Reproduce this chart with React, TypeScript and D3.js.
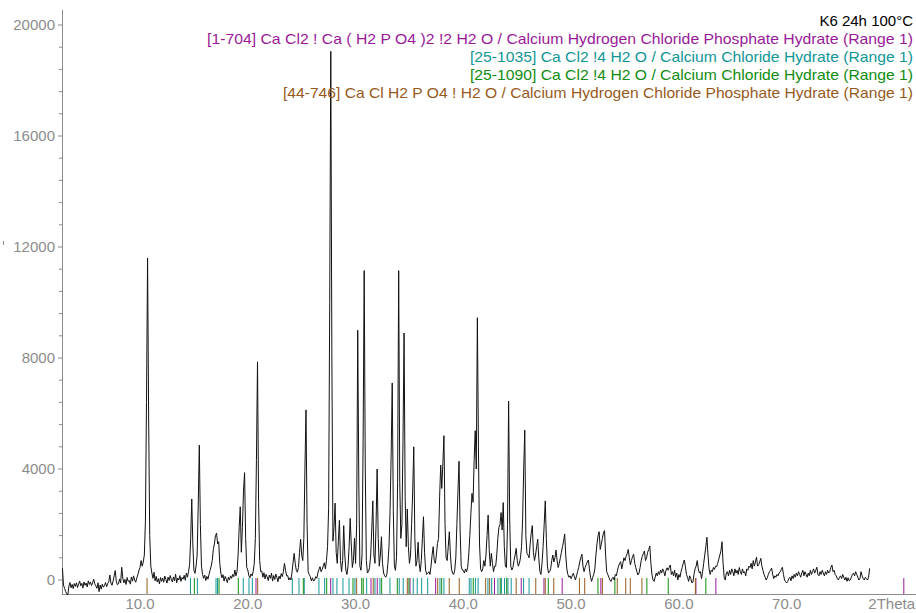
import React from "react";
import * as d3 from "d3";

const WIDTH = 916;
const HEIGHT = 613;

// Scan grid: first angle and step (°2θ), counts listed one row per degree.
const SCAN_START = 2.8;
const SCAN_STEP = 0.1;
const counts: number[] = [
  420, -180,
  -300, -420, -500, -540, -220, -90, -280, -160, -310, -130,
  -230, -100, -270, -150, -40, -210, -120, -290, -70, -190,
  -110, -250, -30, -160, -70, -200, -100, 30, -140, -210,
  -300, -100, -420, -180, -330, -150, -260, -200, -90, -240,
  -130, -60, 180, -110, -190, -40, 150, 340, -60, -170,
  -140, 40, -110, 460, 70, -100, 20, -160, 90, -50,
  -20, -150, 110, -40, 150, 0, -80, 70, 190, 350,
  450, 700, 500, 650, 900, 2100, 6400, 11600, 5800, 1600, // 10°
  500, 250, 60, 280, -30, 130, -70, 50, -140, 90,
  -50, 70, -80, 140, 20, -110, 100, -20, 160, 30,
  -70, 110, -30, 210, -100, 70, 0, 160, -50, 90,
  30, 170, -10, 250, 100, 300, 550, 1500, 2920, 1300,
  350, 240, 500, 900, 2700, 4860, 2000, 500, 200, 60,
  180, -20, 130, 30, 200, 350, 500, 700, 1100, 1300,
  1600, 1690, 1300, 1380, 600, 250, 80, 190, -40, 130,
  30, -90, 100, 0, 150, 60, 200, 120, 360, 150,
  300, 900, 1900, 2640, 1000, 1900, 3200, 3870, 1500, 450,
  360, 150, 80, 220, 150, 300, 600, 1500, 4300, 7860, // 20°
  2800, 700, 300, 320, 100, 260, 40, 200, 110, -20,
  180, 60, 250, -40, 160, 20, 210, 90, -60, 140,
  40, 230, 120, 300, 600, 350, 150, 160, 0, 80,
  0, 280, 620, 960, 600, 350, 280, 450, 1000, 1470,
  900, 700, 1500, 4000, 6130, 2000, 300, 200, 120, -30,
  80, -40, 0, 120, 60, 250, 380, 480, 300, 380,
  500, 620, 400, 700, 1200, 2600, 10000, 19050, 8000, 1400,
  1900, 2770, 1000, 600, 1400, 2150, 700, 300, 700, 1960,
  900, 350, 200, 500, 1200, 2220, 1300, 450, 700, 1500,
  600, 2000, 9000, 3500, 500, 350, 900, 5000, 11150, 4000, // 30°
  700, 250, 300, 450, 900, 1800, 2850, 900, 600, 2000,
  4000, 1500, 500, 900, 1560, 600, 250, 150, 100, 200,
  600, 1200, 2500, 4500, 7100, 2500, 500, 350, 800, 3500,
  11150, 3500, 1500, 2000, 5000, 8900, 3000, 1200, 2560, 1200,
  600, 900, 2000, 3200, 4800, 1500, 500, 700, 1360, 600,
  300, 700, 1500, 2280, 1000, 350, 200, 240, 300, 200,
  500, 900, 1200, 700, 600, 900, 1320, 1500, 3000, 4140,
  3300, 4200, 5200, 2000, 800, 700, 1200, 1740, 900, 400,
  250, 200, 350, 800, 2000, 3200, 4280, 1800, 500, 360,
  350, 250, 400, 300, 450, 900, 1600, 2400, 3120, 2800, // 40°
  4300, 5380, 4000, 9450, 4800, 1300, 400, 300, 400, 700,
  500, 900, 1600, 2340, 1100, 500, 960, 600, 300, 500,
  500, 900, 1500, 1900, 2000, 2430, 1800, 2790, 1200, 480,
  450, 2000, 6450, 2200, 500, 360, 450, 700, 900, 1140,
  700, 500, 600, 800, 1200, 2200, 4000, 5400, 1600, 960,
  900, 800, 1300, 1700, 1960, 1000, 700, 900, 1200, 1470,
  800, 300, 200, 600, 1200, 2000, 2850, 1500, 500, 250,
  300, 400, 700, 900, 650, 800, 1080, 700, 450, 600,
  800, 1000, 1200, 1400, 1660, 900, 400, 200, 100, 150,
  50, 150, 240, 120, 0, 150, 300, 450, 650, 800, // 50°
  930, 500, 300, 450, 550, 650, 720, 400, 100, -50,
  100, 200, 400, 900, 1300, 1600, 1740, 1100, 1300, 1500,
  1700, 1780, 900, 300, 200, 100, 0, -50, 50, 100,
  0, 200, 150, 350, 500, 600, 660, 400, 600, 800,
  700, 850, 950, 1100, 800, 550, 700, 850, 930, 600,
  450, 300, 180, 250, 450, 700, 850, 950, 1045, 700,
  800, 1000, 1100, 1225, 600, 200, 0, -50, 100, 250,
  150, 300, 200, 360, 250, 400, 300, 150, 350, 440,
  350, 450, 540, 200, 300, 150, 350, 100, 250, 0,
  200, 100, 300, 450, 600, 720, 500, 200, 100, -50, // 60°
  150, 50, -100, -80, 200, 400, 500, 700, 400, 250,
  300, 50, 300, 600, 900, 1200, 1540, 900, 400, 200,
  350, 300, 450, 380, 500, 480, 600, 750, 900, 1050,
  1380, 600, 100, 0, 250, 300, 150, 350, 200, 400,
  300, 150, 400, 250, 350, 200, 450, 300, 200, 400,
  250, 300, 150, 400, 350, 500, 450, 600, 400, 700,
  500, 650, 820, 500, 550, 650, 780, 500, 350, 200,
  100, 0, 80, 200, 300, 350, 430, 200, 50, 150,
  100, 200, 150, 250, 300, 380, 460, 200, 0, -60,
  -110, -50, 50, 100, -30, 150, 50, 200, 100, 250, // 70°
  150, 300, 200, 100, 250, 350, 150, 300, 200, 100,
  250, 150, 350, 200, 300, 400, 250, 350, 460, 200,
  150, 300, 200, 350, 250, 150, 300, 200, 350, 250,
  300, 450, 540, 300, 350, 200, 150, 50, 0, 100,
  150, 50, 200, 100, 0, 100, -50, 80, -30, 0,
  100, 200, 250, 150, 300, 200, 100, 0, 50, 300,
  150, 50, 0, 100, 50, 0, 100, 420,
];

// Reference patterns: line positions in °2θ.
const linesCaCl2CaH2PO4 = [
  20.76, 27.69, 31.43, 32.01, 35.05, 37.43, 42.89, 45.37, 47.48, 49.17, 52.76,
  61.58, 63.43, 80.87,
];
const linesCaCl2_4H2O_1035 = [
  14.68, 15.32, 17.05, 17.19, 19.58, 20.11, 20.42, 24.13, 24.75, 25.24, 26.6,
  27.13, 27.9, 28.27, 28.83, 29.39, 29.94, 31.03, 31.8, 32.26, 33.19, 34.05,
  34.42, 35.35, 35.72, 36.13, 36.69, 37.83, 38.2, 40.55, 40.71, 41.12, 41.37,
  42.28, 42.63, 43.21, 43.53, 43.82, 44.14, 44.44, 45.59, 46.1,
];
const linesCaCl2_4H2O_1090 = [
  15.04, 17.33, 19.12, 25.15, 27.32, 29.76, 30.57, 30.71, 32.42, 33.87, 34.95,
  37.99, 40.92, 43.42, 44.02, 47.88, 52.49, 54.06, 57.03, 59.01, 62.5,
];
const linesCaClH2PO4 = [
  10.65, 20.92, 30.1, 31.64, 34.8, 37.62, 38.69, 39.62, 42.07, 42.44, 44.9,
  46.72, 47.6, 48.39, 50.77, 51.26, 52.9, 54.28, 55.07, 55.49, 56.57, 61.53,
];

const sampleName = "K6 24h 100°C";
const patternNames = [
  "[1-704] Ca Cl2 ! Ca ( H2 P O4 )2 !2 H2 O / Calcium Hydrogen Chloride Phosphate Hydrate (Range 1)",
  "[25-1035] Ca Cl2 !4 H2 O / Calcium Chloride Hydrate (Range 1)",
  "[25-1090] Ca Cl2 !4 H2 O / Calcium Chloride Hydrate (Range 1)",
  "[44-746] Ca Cl H2 P O4 ! H2 O / Calcium Hydrogen Chloride Phosphate Hydrate (Range 1)",
];
const patternColors = ["#991a99", "#119696", "#118c11", "#985a1c"];
const patternLines = [
  linesCaCl2CaH2PO4,
  linesCaCl2_4H2O_1035,
  linesCaCl2_4H2O_1090,
  linesCaClH2PO4,
];
// Set widths of the legend entries (px).
const patternNameWidths = [706, 443, 443, 630];

const xTickValues = [10, 20, 30, 40, 50, 60, 70];
const yTickValues = [0, 4000, 8000, 12000, 16000, 20000];
const yMinorStep = 800;

const FONT = "'Liberation Sans', Arial, sans-serif";
const AXIS = "#8c8c8c";

export default function App() {
  const x = d3.scaleLinear().domain([2.76, 82.0]).range([62, 916]);
  const y = d3.scaleLinear().domain([0, 20000]).range([580, 25]);
  const axisY = 594;
  const axisTop = 10;

  const points: [number, number][] = counts.map((c, i) => [
    SCAN_START + i * SCAN_STEP,
    c,
  ]);
  const line = d3
    .line<[number, number]>()
    .x((d) => x(d[0]))
    .y((d) => y(d[1]));

  const minorTicks = d3
    .range(0, 20000 + 1, yMinorStep)
    .filter((v) => !yTickValues.includes(v));

  const stickTop = 578;
  const legendRight = 913;

  return (
    <svg
      width={WIDTH}
      height={HEIGHT}
      style={{ position: "absolute", left: 0, top: 0, background: "#fff" }}
      fontFamily={FONT}
    >
      {/* y axis */}
      <line x1={62.5} x2={62.5} y1={axisTop} y2={axisY} stroke={AXIS} />
      {yTickValues.map((v) => (
        <g key={v}>
          <line x1={58} x2={62} y1={y(v)} y2={y(v)} stroke={AXIS} />
          <text
            x={55}
            y={y(v)}
            dy="0.35em"
            textAnchor="end"
            fontSize={15}
            fill={AXIS}
          >
            {v}
          </text>
        </g>
      ))}
      {minorTicks.map((v) => (
        <line key={v} x1={59} x2={62} y1={y(v)} y2={y(v)} stroke={AXIS} />
      ))}
      <line x1={3.5} x2={3.5} y1={241} y2={245} stroke={AXIS} />

      {/* x axis */}
      <line x1={62} x2={916} y1={axisY + 0.5} y2={axisY + 0.5} stroke={AXIS} />
      {xTickValues.map((v) => (
        <text
          key={v}
          x={x(v)}
          y={609}
          textAnchor="middle"
          fontSize={15}
          fill={AXIS}
        >
          {v.toFixed(1)}
        </text>
      ))}
      <text x={915} y={609} textAnchor="end" fontSize={15} fill={AXIS}>
        2Theta
      </text>

      {/* reference pattern sticks */}
      {patternLines.map((arr, k) =>
        arr.map((t, i) => (
          <line
            key={`${k}-${i}`}
            x1={x(t)}
            x2={x(t)}
            y1={stickTop}
            y2={axisY}
            stroke={patternColors[k]}
            strokeWidth={1}
          />
        ))
      )}

      {/* measured scan */}
      <path
        d={line(points) ?? ""}
        fill="none"
        stroke="#111"
        strokeWidth={1}
        strokeLinejoin="round"
      />

      {/* legend */}
      <text
        x={legendRight}
        y={26}
        textAnchor="end"
        fontSize={15}
        fill="#000"
      >
        {sampleName}
      </text>
      {patternNames.map((name, k) => (
        <text
          key={name}
          x={legendRight - patternNameWidths[k]}
          y={44 + k * 18}
          fontSize={15}
          fill={patternColors[k]}
          textLength={patternNameWidths[k]}
          lengthAdjust="spacingAndGlyphs"
        >
          {name}
        </text>
      ))}
    </svg>
  );
}
